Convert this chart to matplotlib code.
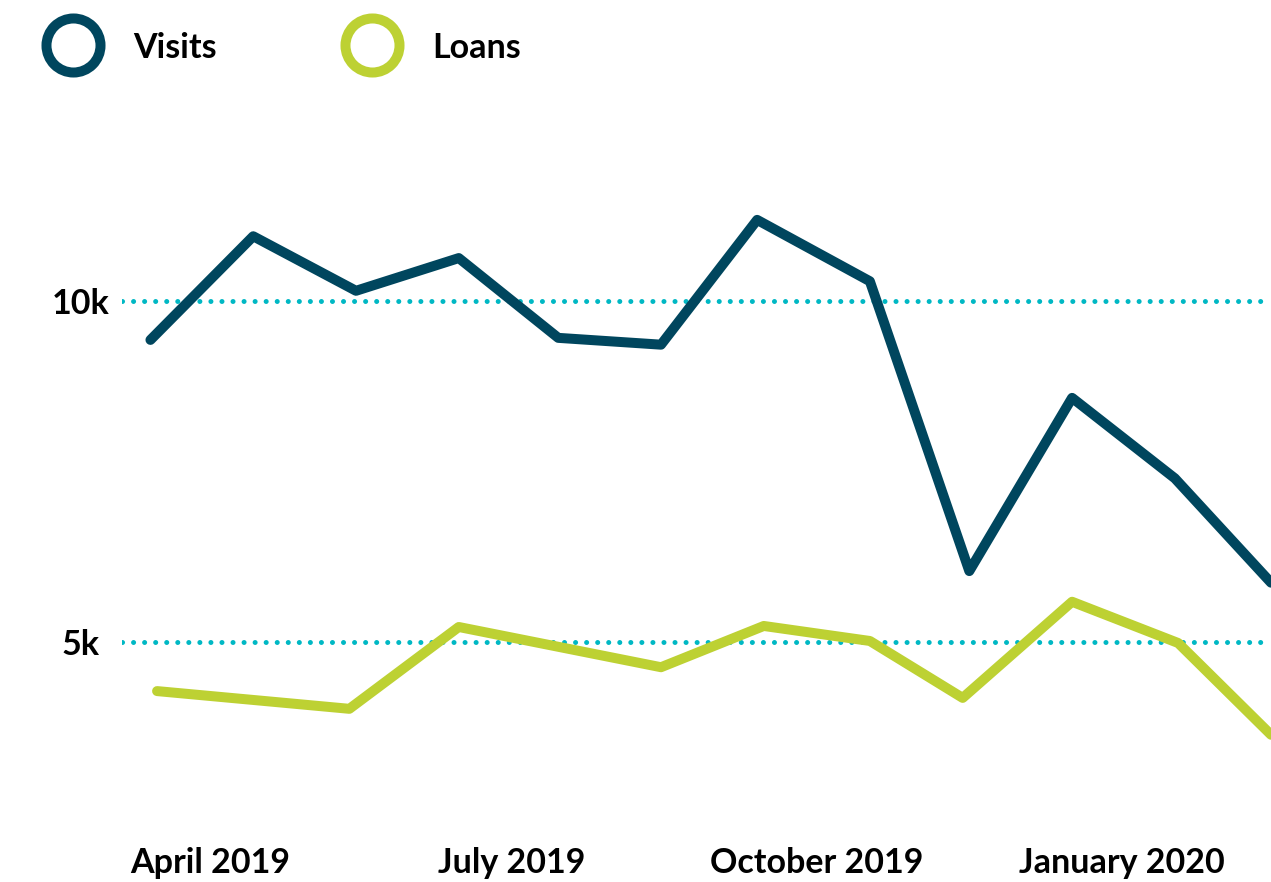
import numpy as np
import pandas as pd
import matplotlib
matplotlib.use("Agg")
import matplotlib.pyplot as plt
from matplotlib.lines import Line2D

# data
visit_dates = pd.to_datetime([
    "2019-03-14", "2019-04-14", "2019-05-15", "2019-06-15", "2019-07-15", "2019-08-15",
    "2019-09-13", "2019-10-17", "2019-11-16", "2019-12-17", "2020-01-17", "2020-02-15",
])
visits = [9430, 10950, 10150, 10630, 9460, 9360, 11190, 10290, 6040, 8580, 7400, 5870]

loan_dates = pd.to_datetime([
    "2019-03-16", "2019-05-13", "2019-06-15", "2019-08-15", "2019-09-15",
    "2019-10-17", "2019-11-14", "2019-12-17", "2020-01-18", "2020-02-15",
])
loans = [4280, 4020, 5220, 4630, 5235, 5015, 4180, 5590, 4985, 3640]

tick_dates = pd.to_datetime(["2019-04-01", "2019-07-01", "2019-10-01", "2020-01-01"])
tick_labels = ["April 2019", "July 2019", "October 2019", "January 2020"]
y_ticks = [5000, 10000]
y_labels = ["5k", "10k"]

VISITS_COL = "#00465E"
LOANS_COL = "#BDD133"
GRID_COL = "#00B8C4"

plt.rcParams["font.family"] = ["Lato", "DejaVu Sans"]
FS = 24.5
FW = "bold"

W, H = 1271, 882
fig = plt.figure(figsize=(W / 100, H / 100), dpi=100)
# axes spans x 122..1271 px, y 100..830 px
ax = fig.add_axes([122 / W, (H - 830) / H, (W - 122) / W, 730 / H])

for v in y_ticks:
    ax.axhline(v, color=GRID_COL, lw=3.6, linestyle=(0, (0.01, 2.2)),
               dash_capstyle="round", zorder=1)

ax.plot(visit_dates, visits, color=VISITS_COL, lw=7.2,
        solid_capstyle="round", solid_joinstyle="round", zorder=3)
ax.plot(loan_dates, loans, color=LOANS_COL, lw=7.2,
        solid_capstyle="round", solid_joinstyle="round", zorder=3)

ax.set_xlim(pd.Timestamp("2019-03-05 10:00"), pd.Timestamp("2020-02-15"))
ax.set_ylim(2243, 12948)

ax.set_xticks(tick_dates)
ax.set_xticklabels(tick_labels, fontsize=FS, fontweight=FW)
ax.set_yticks(y_ticks)
ax.set_yticklabels(y_labels, fontsize=FS, fontweight=FW, ha="center")
ax.tick_params(axis="both", length=0)
ax.tick_params(axis="y", pad=30)
ax.tick_params(axis="x", pad=12)
for s in ax.spines.values():
    s.set_visible(False)

# legend drawn by hand at the top
for x, col, name in [(73, VISITS_COL, "Visits"), (372, LOANS_COL, "Loans")]:
    fig.add_artist(Line2D([x / W], [(H - 45) / H], marker="o", ms=38.9,
                          mfc="white", mec=col, mew=7.2,
                          transform=fig.transFigure))
    fig.text((x + 60) / W, (H - 48) / H, name, fontsize=FS, fontweight=FW,
             va="center", ha="left")

fig.savefig("out.png", dpi=100)
